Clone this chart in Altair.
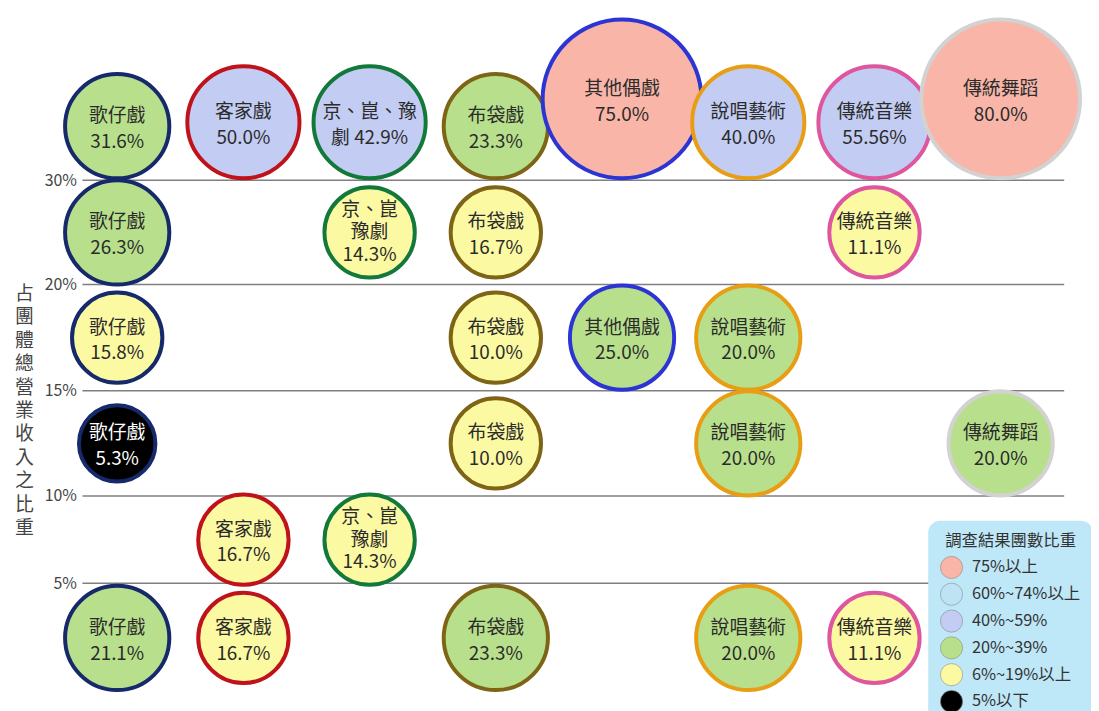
import altair as alt
import pandas as pd

FONT = "Noto Sans CJK TC"

# ---- categories -------------------------------------------------------
genres = ["歌仔戲", "客家戲", "京、崑、豫劇", "布袋戲", "其他偶戲", "說唱藝術", "傳統音樂", "傳統舞蹈"]
genre_stroke = ["#15296B", "#C0121B", "#13793A", "#7E6415", "#2C34D4", "#E89E14", "#DE569E", "#D2D2D2"]

# rows (revenue-share bands), bottom to top
band_names = ["5%以下", "5%~10%", "10%~15%", "15%~20%", "20%~30%", "30%以上"]
edge_labels = ["5%", "10%", "15%", "20%", "30%"]
edge_pos = [1.18, 2.06, 3.12, 4.19, 5.24]      # axis positions of the band boundaries
bottom_edge = 0.08
Y_MAX = 6.95

# survey-result classes (legend)
class_names = ["75%以上", "60%~74%以上", "40%~59%", "20%~39%", "6%~19%以上", "5%以下"]
class_fill = ["#F8B5A8", "#BEE3F5", "#C3CCF3", "#B8E08C", "#FCF9A3", "#000000"]
class_min = [75, 60, 40, 20, 6, 0]

# ---- data -------------------------------------------------------------
rec_genre = ["歌仔戲", "歌仔戲", "歌仔戲", "歌仔戲", "歌仔戲",
             "客家戲", "客家戲", "客家戲",
             "京、崑、豫劇", "京、崑、豫劇", "京、崑、豫劇",
             "布袋戲", "布袋戲", "布袋戲", "布袋戲", "布袋戲",
             "其他偶戲", "其他偶戲",
             "說唱藝術", "說唱藝術", "說唱藝術", "說唱藝術",
             "傳統音樂", "傳統音樂", "傳統音樂",
             "傳統舞蹈", "傳統舞蹈"]
rec_band = ["30%以上", "20%~30%", "15%~20%", "10%~15%", "5%以下",
            "30%以上", "5%~10%", "5%以下",
            "30%以上", "20%~30%", "5%~10%",
            "30%以上", "20%~30%", "15%~20%", "10%~15%", "5%以下",
            "30%以上", "15%~20%",
            "30%以上", "15%~20%", "10%~15%", "5%以下",
            "30%以上", "20%~30%", "5%以下",
            "30%以上", "10%~15%"]
rec_value = [31.6, 26.3, 15.8, 5.3, 21.1,
             50.0, 16.7, 16.7,
             42.9, 14.3, 14.3,
             23.3, 16.7, 10.0, 10.0, 23.3,
             75.0, 25.0,
             40.0, 20.0, 20.0, 20.0,
             55.56, 11.1, 11.1,
             80.0, 20.0]
rec_text = ["歌仔戲\n31.6%", "歌仔戲\n26.3%", "歌仔戲\n15.8%", "歌仔戲\n5.3%", "歌仔戲\n21.1%",
            "客家戲\n50.0%", "客家戲\n16.7%", "客家戲\n16.7%",
            "京、崑、豫\n劇 42.9%", "京、崑\n豫劇\n14.3%", "京、崑\n豫劇\n14.3%",
            "布袋戲\n23.3%", "布袋戲\n16.7%", "布袋戲\n10.0%", "布袋戲\n10.0%", "布袋戲\n23.3%",
            "其他偶戲\n75.0%", "其他偶戲\n25.0%",
            "說唱藝術\n40.0%", "說唱藝術\n20.0%", "說唱藝術\n20.0%", "說唱藝術\n20.0%",
            "傳統音樂\n55.56%", "傳統音樂\n11.1%", "傳統音樂\n11.1%",
            "傳統舞蹈\n80.0%", "傳統舞蹈\n20.0%"]

# ---- styling / layout ---------------------------------------------------
WIDTH, HEIGHT = 989, 695
PX_PER_UNIT = HEIGHT / Y_MAX
STROKE_W = 4
class_diam = [160, 136, 113, 105, 91, 77]     # bubble diameter per class (px)
LH2, LH3 = 26, 23                             # line heights of 2- and 3-line labels


def classify(v):
    for name, lo in zip(class_names, class_min):
        if v >= lo:
            return name
    return class_names[-1]


edges = [bottom_edge] + edge_pos
rows = []
for g, b, v, t in zip(rec_genre, rec_band, rec_value, rec_text):
    cls = classify(v)
    bi = band_names.index(b)
    d = class_diam[class_names.index(cls)]
    if bi < len(edges) - 1:
        y = (edges[bi] + edges[bi + 1]) / 2
    else:  # top row sits on the 30% line
        y = edge_pos[-1] + (d + STROKE_W) / 2 / PX_PER_UNIT
    rows.append({"genre": g, "band": b, "value": v, "label": t, "cls": cls,
                 "y": y, "area": d * d, "nlines": t.count("\n") + 1})
df = pd.DataFrame(rows)
grid_df = pd.DataFrame({"y": edge_pos, "lab": edge_labels})

label_expr = ""
for p, l in zip(edge_pos, edge_labels):
    label_expr += f"datum.value == {p} ? '{l}' : "
label_expr += "''"

y_scale = alt.Scale(domain=[0, Y_MAX], nice=False, zero=False)
y_axis = alt.Axis(values=edge_pos, labelExpr=label_expr, grid=False,
                  domain=False, ticks=False, labelPadding=6,
                  labelFontSize=16, labelColor="#444444", labelFont=FONT,
                  title=list("占團體總營業收入之比重"), titleAngle=0,
                  titleX=-59, titleY=276, titleBaseline="top",
                  titleAlign="center", titleLineHeight=23.6,
                  titleFontSize=19, titleFontWeight="normal",
                  titleColor="#444444", titleFont=FONT)
y_enc = alt.Y("y:Q", scale=y_scale, axis=y_axis)
x_enc = alt.X("genre:N", sort=genres,
              scale=alt.Scale(type="point", range=[35, 925], padding=0),
              axis=None)

grid = alt.Chart(grid_df).mark_rule(color="#7F7F7F", strokeWidth=1.5).encode(
    y=y_enc,
    x=alt.value(0),
    x2=alt.value(WIDTH),
)

bubbles = alt.Chart(df).mark_circle(opacity=1, strokeWidth=STROKE_W).encode(
    x=x_enc,
    y=y_enc,
    fill=alt.Fill("cls:N",
                  scale=alt.Scale(domain=class_names, range=class_fill),
                  legend=alt.Legend(title="調查結果團數比重", orient="none",
                                    legendX=852, legendY=514,
                                    fillColor="#BEE7F8", cornerRadius=12,
                                    padding=12, symbolType="circle",
                                    symbolSize=500, symbolOpacity=1,
                                    symbolStrokeColor="#8A8A8A",
                                    symbolStrokeWidth=0.6,
                                    labelFontSize=16.5, labelFont=FONT,
                                    labelColor="#333333", labelOffset=9,
                                    titleFontSize=16.5, titleFont=FONT,
                                    titleFontWeight="normal",
                                    titleColor="#333333", titlePadding=7,
                                    titleAnchor="middle", rowPadding=2)),
    stroke=alt.Stroke("genre:N",
                      scale=alt.Scale(domain=genres, range=genre_stroke),
                      legend=None),
    size=alt.Size("area:Q", scale=None),
)

text_color = alt.condition(alt.datum.cls == "5%以下", alt.value("#FFFFFF"),
                           alt.value("#2B2B2B"))

labels2 = alt.Chart(df).transform_filter(alt.datum.nlines <= 2).mark_text(
    lineBreak="\n", fontSize=19, font=FONT, lineHeight=LH2, dy=-LH2 / 2 + 3,
    baseline="middle", align="center").encode(
    x=x_enc, y=y_enc, text="label:N", color=text_color)

labels3 = alt.Chart(df).transform_filter(alt.datum.nlines > 2).mark_text(
    lineBreak="\n", fontSize=19, font=FONT, lineHeight=LH3, dy=-LH3,
    baseline="middle", align="center").encode(
    x=x_enc, y=y_enc, text="label:N", color=text_color)

chart = alt.layer(grid, bubbles, labels2, labels3).properties(
    width=WIDTH, height=HEIGHT,
    padding={"left": 75, "top": 0, "right": 27, "bottom": 8},
    autosize=alt.AutoSizeParams(type="none"),
).configure_view(strokeWidth=0)

chart.save("out.html", embed_options={"renderer": "svg", "actions": False})
